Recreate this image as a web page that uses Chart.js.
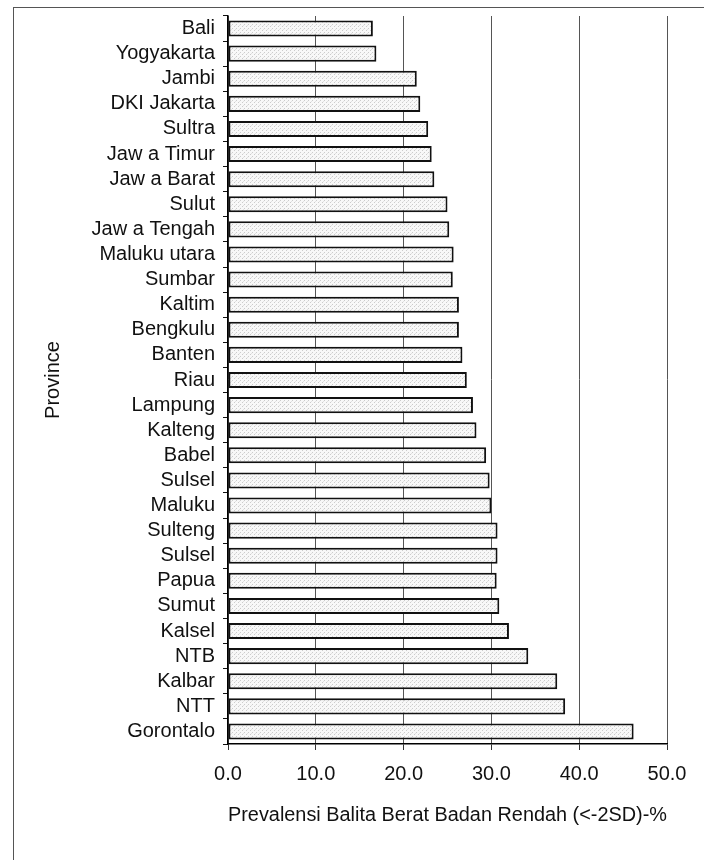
<!DOCTYPE html>
<html>
<head>
<meta charset="utf-8">
<script src="https://cdn.jsdelivr.net/npm/chart.js@4/dist/chart.umd.min.js"></script>
<style>
  html, body { margin: 0; padding: 0; background: #fff; }
  #wrap { width: 704px; height: 860px; }
</style>
</head>
<body>
<div id="wrap"><canvas id="chart" width="704" height="860"></canvas></div>
<script>
const provinces = [
  'Bali', 'Yogyakarta', 'Jambi', 'DKI Jakarta', 'Sultra', 'Jaw a Timur',
  'Jaw a Barat', 'Sulut', 'Jaw a Tengah', 'Maluku utara', 'Sumbar', 'Kaltim',
  'Bengkulu', 'Banten', 'Riau', 'Lampung', 'Kalteng', 'Babel', 'Sulsel',
  'Maluku', 'Sulteng', 'Sulsel', 'Papua', 'Sumut', 'Kalsel', 'NTB',
  'Kalbar', 'NTT', 'Gorontalo'
];
const prevalence = [
  16.5, 16.9, 21.5, 21.9, 22.8, 23.2,
  23.5, 25.0, 25.2, 25.7, 25.6, 26.3,
  26.3, 26.7, 27.2, 27.9, 28.3, 29.4, 29.8,
  30.0, 30.7, 30.7, 30.6, 30.9, 32.0, 34.2,
  37.5, 38.4, 46.2
];
const xTicks = [0, 10, 20, 30, 40, 50];

const FONT = '"Liberation Sans", Arial, sans-serif';

// stippled light grey fill like the scanned bars
function stipple() {
  const c = document.createElement('canvas');
  c.width = 4;
  c.height = 4;
  const g = c.getContext('2d');
  g.fillStyle = '#f8f8f8';
  g.fillRect(0, 0, 4, 4);
  g.fillStyle = '#cccccc';
  g.fillRect(0, 0, 1, 1);
  g.fillRect(2, 2, 1, 1);
  g.fillStyle = '#e2e2e2';
  g.fillRect(3, 1, 1, 1);
  return g.createPattern(c, 'repeat');
}

// thin frame around the whole figure
const framePlugin = {
  id: 'frame',
  beforeDraw(chart) {
    const ctx = chart.ctx;
    ctx.save();
    ctx.strokeStyle = '#555';
    ctx.lineWidth = 1;
    ctx.strokeRect(13.5, 7.5, 800, 900);
    ctx.restore();
  }
};

const ctx = document.getElementById('chart').getContext('2d');

new Chart(ctx, {
  type: 'bar',
  data: {
    labels: provinces,
    datasets: [
      {
        label: 'Prevalensi',
        data: prevalence,
        backgroundColor: stipple(),
        borderColor: '#111',
        borderWidth: 2,
        borderSkipped: false,
        barPercentage: 0.64,
        categoryPercentage: 1.0,
      },
    ],
  },
  options: {
    indexAxis: 'y',
    responsive: false,
    animation: false,
    layout: {
      padding: { top: 16, right: 37, bottom: 16, left: 0 },
    },
    plugins: {
      legend: { display: false },
      tooltip: { enabled: false },
    },
    scales: {
      x: {
        min: 0,
        max: 50,
        afterBuildTicks: (scale) => {
          scale.ticks = xTicks.map((v) => ({ value: v }));
        },
        afterFit: (scale) => {
          scale.height = 100;
          scale.paddingLeft = 0;
          scale.paddingRight = 0;
        },
        grid: {
          color: '#555',
          lineWidth: 1,
          tickLength: 6,
          tickColor: '#333',
        },
        border: { color: '#000', width: 1.5 },
        ticks: {
          color: '#111',
          padding: 12,
          font: { family: FONT, size: 20 },
          callback: (v) => Number(v).toFixed(1),
        },
        title: {
          display: true,
          text: 'Prevalensi Balita Berat Badan Rendah (<-2SD)-%',
          color: '#111',
          font: { family: FONT, size: 20 },
          padding: { top: 0, bottom: 17 },
        },
      },
      y: {
        afterFit: (scale) => {
          scale.width = 228;
          scale.paddingTop = 0;
          scale.paddingBottom = 0;
        },
        grid: {
          drawOnChartArea: false,
          tickLength: 5,
          tickColor: '#111',
        },
        border: { color: '#000', width: 1.5 },
        ticks: {
          color: '#111',
          padding: 8,
          autoSkip: false,
          font: { family: FONT, size: 20 },
        },
        title: {
          display: true,
          text: 'Province',
          color: '#111',
          font: { family: FONT, size: 20 },
          padding: { top: 41, bottom: 0 },
        },
      },
    },
  },
  plugins: [framePlugin],
});
</script>
</body>
</html>
